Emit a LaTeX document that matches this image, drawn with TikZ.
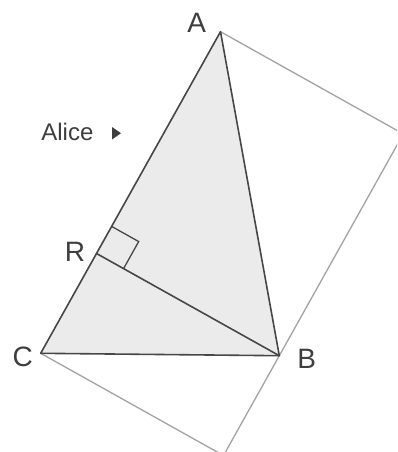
\documentclass[tikz,border=0pt]{standalone}
\usepackage{fontspec}
\setmainfont{Liberation Sans}
\usetikzlibrary{calc}
\definecolor{edgecol}{HTML}{474747}
\definecolor{framecol}{HTML}{A3A3A3}
\definecolor{shadecol}{HTML}{EBEBEB}
\definecolor{inkcol}{HTML}{3E3E3E}
\begin{document}
\begin{tikzpicture}[x=1pt,y=-1pt,
  triline/.style={draw=edgecol,line width=1.6pt,line join=round},
  frameline/.style={draw=framecol,line width=1.3pt},
  anglemark/.style={draw=edgecol,line width=1.3pt},
  vlabel/.style={inner sep=0pt,anchor=base,text=inkcol,font=\fontsize{28}{30}\selectfont},
  smalllabel/.style={inner sep=0pt,anchor=base west,text=inkcol,font=\fontsize{24}{26}\selectfont}]
\useasboundingbox (0,0) rectangle (397,452);
\fill[white] (0,0) rectangle (397,452);
\clip (0,0) rectangle (397,452);
\coordinate (A) at (220.5,31.7);
\coordinate (B) at (279.3,355.7);
\coordinate (C) at (40.7,353.3);
\coordinate (R) at ($(A)!(B)!(C)$);
\coordinate (P) at ($(A)+(B)-(R)$);
\coordinate (Q) at ($(C)+(B)-(R)$);
\coordinate (s1) at ($(R)!31pt!(A)$);
\coordinate (s3) at ($(R)!31pt!(B)$);
\coordinate (s2) at ($(s1)+(s3)-(R)$);
% shaded triangle
\fill[shadecol] (A) -- (B) -- (C) -- cycle;
% rectangle
\path[frameline] (A) -- (P) -- (Q) -- (C);
% triangle and altitude
\path[triline] (A) -- (B) -- (C) -- cycle;
\path[triline] (R) -- (B);
% right angle mark
\path[anglemark] (s1) -- (s2) -- (s3);
% labels
\node[vlabel] (la) at (196.7,32.3) {A};
\node[vlabel] (lr) at (75,261) {R};
\node[vlabel] (lc) at (22.7,366.5) {C};
\node[vlabel] (lb) at (306.7,368) {B};
\node[smalllabel] (alice) at (41.2,140) {Alice};
\fill[inkcol] (112,127) -- (112,139.5) -- (121,133.2) -- cycle;
\end{tikzpicture}
\end{document}
